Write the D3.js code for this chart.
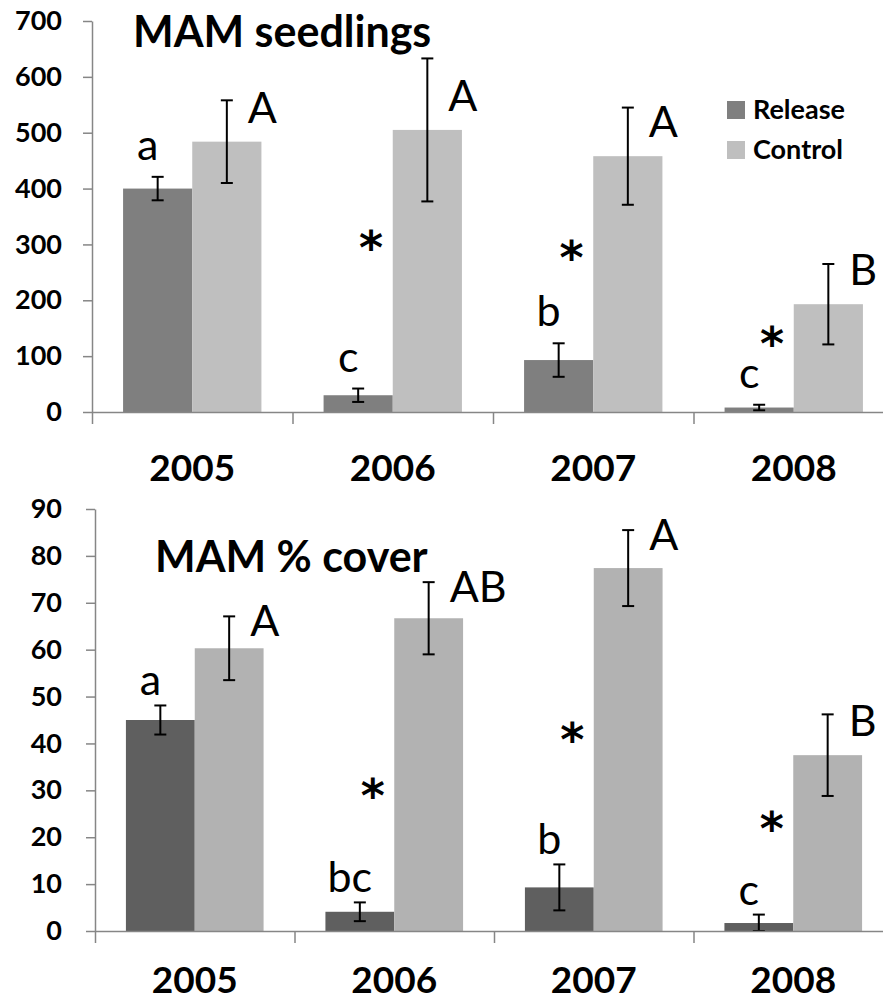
<!DOCTYPE html>
<html>
<head>
<meta charset="utf-8">
<script src="https://cdn.jsdelivr.net/npm/d3@7"></script>
<style>
  html, body { margin: 0; padding: 0; background: #fff; }
  svg { display: block; font-family: Lato, 'Open Sans', sans-serif; }
</style>
</head>
<body>
<div id="chart"></div>
<script>
// years on the x axis, two treatments
const YEARS = ['2005', '2006', '2007', '2008'];
const SERIES = ['Release', 'Control'];

// MAM seedlings (top panel)
const SEED_RELEASE = [400, 30, 93, 8];
const SEED_RELEASE_ERR = [21, 12, 30, 5];
const SEED_CONTROL = [484, 505, 458, 193];
const SEED_CONTROL_ERR = [74, 128, 87, 72];
const SEED_RELEASE_LETTERS = ['a', 'c', 'b', 'c'];
const SEED_CONTROL_LETTERS = ['A', 'A', 'A', 'B'];
const SEED_STARS = [null, 313, 294, 140];   // value level of the * marks
const SEED_TICKS = [0, 100, 200, 300, 400, 500, 600, 700];

// MAM % cover (bottom panel)
const COVER_RELEASE = [45, 4.1, 9.3, 1.7];
const COVER_RELEASE_ERR = [3.1, 2, 4.9, 1.8];
const COVER_CONTROL = [60.3, 66.7, 77.4, 37.5];
const COVER_CONTROL_ERR = [6.8, 7.7, 8.1, 8.7];
const COVER_RELEASE_LETTERS = ['a', 'bc', 'b', 'c'];
const COVER_CONTROL_LETTERS = ['A', 'AB', 'A', 'B'];
const COVER_STARS = [null, 31, 43, 24];
const COVER_TICKS = [0, 10, 20, 30, 40, 50, 60, 70, 80, 90];

const W = 883, H = 1002;
const AXIS_GREY = '#868686';
const STAR_FS = 46;

const svg = d3.select('#chart').append('svg')
  .attr('width', W).attr('height', H);

function panel(cfg) {
  const g = svg.append('g');
  const y = d3.scaleLinear().domain([0, cfg.ticks[cfg.ticks.length - 1]]).range(cfg.yRange);
  const x = d3.scaleBand().domain(YEARS).range(cfg.xRange).paddingInner(0.31).paddingOuter(0.155);
  const xs = d3.scaleBand().domain(SERIES).range([0, x.bandwidth()]);
  const bw = xs.bandwidth();
  const color = d3.scaleOrdinal().domain(SERIES).range(cfg.colors);

  const rows = YEARS.map((yr, i) => ({
    year: yr,
    vals: [
      { s: 'Release', v: cfg.release[i], e: cfg.releaseErr[i], lab: cfg.releaseLetters[i] },
      { s: 'Control', v: cfg.control[i], e: cfg.controlErr[i], lab: cfg.controlLetters[i] }
    ],
    star: cfg.stars[i]
  }));

  // y axis
  const ya = g.append('g').attr('transform', `translate(${cfg.xRange[0]},0)`)
    .call(d3.axisLeft(y).tickValues(cfg.ticks).tickSize(9).tickSizeOuter(0).tickPadding(cfg.tickPad));
  ya.select('.domain').attr('stroke', AXIS_GREY).attr('stroke-width', 1.5);
  ya.selectAll('.tick line').attr('stroke', AXIS_GREY).attr('stroke-width', 1.5);
  ya.selectAll('.tick text').attr('fill', '#000').style('font-size', '27px').style('font-weight', 'bold')
    .style('font-family', 'Lato, sans-serif');

  // bars
  const grp = g.selectAll('.grp').data(rows).join('g').attr('class', 'grp')
    .attr('transform', d => `translate(${x(d.year)},0)`);
  grp.selectAll('rect').data(d => d.vals).join('rect')
    .attr('x', d => xs(d.s)).attr('width', bw)
    .attr('y', d => y(d.v)).attr('height', d => y(0) - y(d.v))
    .attr('fill', d => color(d.s));

  // x axis (line + boundary ticks)
  const bounds = d3.scaleLinear().domain([0, YEARS.length]).range(cfg.xRange);
  const xa = g.append('g').attr('transform', `translate(0,${y(0)})`)
    .call(d3.axisBottom(bounds).tickValues(d3.range(YEARS.length + 1)).tickFormat('').tickSize(12).tickSizeOuter(0));
  xa.select('.domain').attr('stroke', AXIS_GREY).attr('stroke-width', 1.5);
  xa.selectAll('.tick line').attr('stroke', AXIS_GREY).attr('stroke-width', 1.5);

  const xl = g.append('g').attr('transform', `translate(0,${y(0)})`)
    .call(d3.axisBottom(x).tickSize(0));
  xl.select('.domain').remove();
  xl.selectAll('.tick text').attr('y', cfg.yearGap).attr('dy', null).attr('fill', '#000')
    .style('font-size', '37px').style('font-weight', 'bold').style('font-family', 'Lato, sans-serif');

  // error bars
  const eb = grp.selectAll('.eb').data(d => d.vals).join('g').attr('class', 'eb')
    .attr('stroke', '#000').attr('stroke-width', 2);
  const cx = d => xs(d.s) + bw / 2;
  eb.append('line').attr('x1', cx).attr('x2', cx)
    .attr('y1', d => y(d.v + d.e)).attr('y2', d => y(Math.max(0, d.v - d.e)));
  eb.append('line').attr('x1', d => cx(d) - 6).attr('x2', d => cx(d) + 6)
    .attr('y1', d => y(d.v + d.e)).attr('y2', d => y(d.v + d.e));
  eb.append('line').attr('x1', d => cx(d) - 6).attr('x2', d => cx(d) + 6)
    .attr('y1', d => y(Math.max(0, d.v - d.e))).attr('y2', d => y(Math.max(0, d.v - d.e)));

  // significance letters
  grp.append('text')
    .attr('x', d => cx(d.vals[0]) - 10)
    .attr('y', d => y(d.vals[0].v + d.vals[0].e) - cfg.lowGap)
    .attr('text-anchor', 'middle').style('font-size', '43px')
    .text(d => d.vals[0].lab);
  grp.append('text')
    .attr('x', d => cx(d.vals[1]) + 21)
    .attr('y', d => Math.max(y(d.vals[1].v) - 19, y(d.vals[1].v + d.vals[1].e) + 20))
    .attr('text-anchor', 'start').style('font-size', '43px')
    .text(d => d.vals[1].lab);

  // asterisks
  grp.filter(d => d.star != null).append('text')
    .attr('x', d => cx(d.vals[0]) + 13)
    .attr('y', d => y(d.star) + STAR_FS * 0.575)
    .attr('text-anchor', 'middle')
    .style('font-family', "'DejaVu Sans', sans-serif").style('font-weight', 'bold')
    .style('font-size', STAR_FS + 'px')
    .text('*');

  // title
  g.append('text').attr('x', cfg.titleX).attr('y', cfg.titleY)
    .style('font-size', '43px').style('font-weight', 'bold').text(cfg.title);

  return g;
}

const topPanel = panel({
  title: 'MAM seedlings', titleX: 133, titleY: 47,
  ticks: SEED_TICKS, yRange: [412, 21], xRange: [92, 894], tickPad: 21, yearGap: 69,
  release: SEED_RELEASE, releaseErr: SEED_RELEASE_ERR,
  control: SEED_CONTROL, controlErr: SEED_CONTROL_ERR,
  releaseLetters: SEED_RELEASE_LETTERS, controlLetters: SEED_CONTROL_LETTERS,
  stars: SEED_STARS, lowGap: 17,
  colors: ['#7f7f7f', '#bfbfbf']
});

panel({
  title: 'MAM % cover', titleX: 155, titleY: 572,
  ticks: COVER_TICKS, yRange: [931, 509], xRange: [95, 893], tickPad: 24, yearGap: 62,
  release: COVER_RELEASE, releaseErr: COVER_RELEASE_ERR,
  control: COVER_CONTROL, controlErr: COVER_CONTROL_ERR,
  releaseLetters: COVER_RELEASE_LETTERS, controlLetters: COVER_CONTROL_LETTERS,
  stars: COVER_STARS, lowGap: 10,
  colors: ['#5f5f5f', '#b2b2b2']
});

// legend (top panel)
const leg = topPanel.append('g').attr('transform', 'translate(727,101)');
const li = leg.selectAll('g').data(SERIES).join('g')
  .attr('transform', (d, i) => `translate(0,${i * 40})`);
li.append('rect').attr('width', 18).attr('height', 18)
  .attr('fill', (d, i) => ['#7f7f7f', '#bfbfbf'][i]);
li.append('text').attr('x', 26).attr('y', 18)
  .style('font-size', '27px').style('font-weight', 'bold').text(d => d);
</script>
</body>
</html>
